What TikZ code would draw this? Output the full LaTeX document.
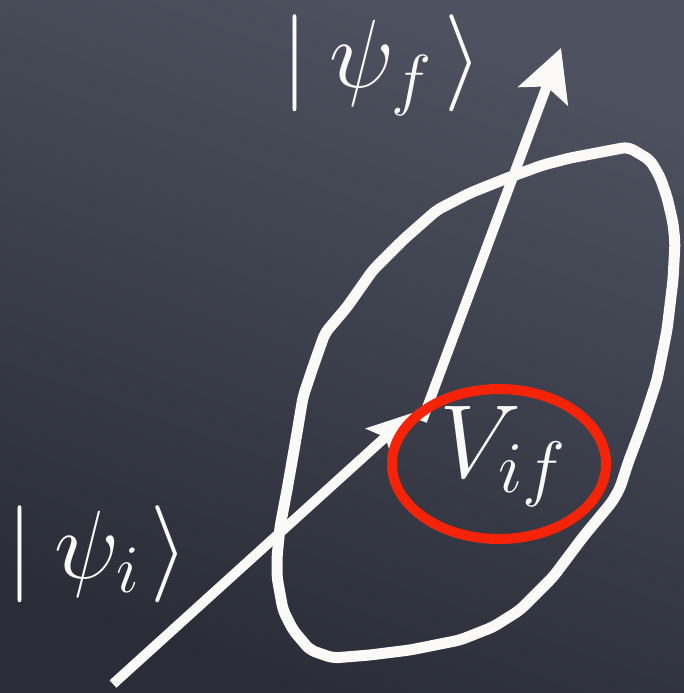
\RequirePackage{fix-cm}
\documentclass[tikz,border=0pt]{standalone}
\usetikzlibrary{arrows.meta,shapes.geometric}
\definecolor{boardtop}{RGB}{78,82,96}
\definecolor{boardbot}{RGB}{42,45,55}
\definecolor{chalkred}{RGB}{245,35,8}
\definecolor{chalk}{RGB}{252,250,248}
\tikzset{
  chalkline/.style={draw=chalk, line width=11pt, line join=round, line cap=round},
  arrline/.style={draw=chalk, line width=10pt, line join=round},
  label/.style={text=chalk, inner sep=0pt, outer sep=0pt, anchor=base west,
    font=\fontsize{97}{110}\selectfont},
  biglabel/.style={label, font=\fontsize{104}{115}\selectfont},
  redring/.style={draw=chalkred, line width=10pt}
}
\begin{document}
\begin{tikzpicture}[x=1pt,y=-1pt]
\useasboundingbox (0,0) rectangle (684,693);
\shade[top color=boardtop, bottom color=boardbot, shading angle=-20] (0,0) rectangle (684,693);
% hand-drawn region
\draw[chalkline, rounded corners=6pt]
 (628,147) -- (650,160) -- (660,177) -- (667,197) -- (673,223) -- (675,243)
 -- (673,280) -- (667,330) -- (657,380) -- (643,423) -- (628,463) -- (620,488)
 -- (612,502) -- (583,537) -- (553,577) -- (520,610) -- (493,627) -- (460,640)
 -- (410,650) -- (370,655) -- (333,658) -- (310,650) -- (293,630) -- (283,610)
 -- (277,577) -- (277,557) -- (280,527) -- (287,490) -- (290,473) -- (297,433)
 -- (303,397) -- (313,367) -- (325,333) -- (347,307) -- (373,270) -- (403,240)
 -- (437,210) -- (470,193) -- (510,177) -- (543,165) -- (570,158) -- cycle;
% arrows
\coordinate (istart) at (113,684);
\coordinate (itip) at (412,413);
\coordinate (fstart) at (422,421);
\coordinate (ftip) at (561,48);
\draw[arrline, -{Stealth[length=44pt,width=38pt,inset=8pt]}] (istart) -- (itip);
\draw[arrline, -{Stealth[length=51pt,width=52pt,inset=10pt]}] (fstart) -- (ftip);
% red ellipse
\node[redring, ellipse, minimum width=214pt, minimum height=150pt, inner sep=0pt] (ring) at (499,464) {};
% labels
\node[label] (psif) at (281,88) {$|\mkern4mu\psi_f\mkern2.4mu\rangle$};
\node[label] (psii) at (6,578) {$|\mkern4mu\psi_i\mkern2mu\rangle$};
\node[biglabel] (vif) at (439,477) {$V_{if}$};
\end{tikzpicture}
\end{document}
